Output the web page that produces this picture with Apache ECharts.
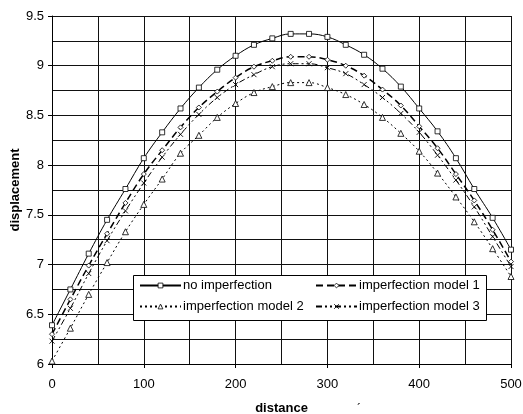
<!DOCTYPE html>
<html>
<head>
<meta charset="utf-8">
<script src="https://cdn.jsdelivr.net/npm/echarts@6/dist/echarts.min.js"></script>
<style>
html, body { margin: 0; padding: 0; background: #fff; }
#chart { width: 523px; height: 414px; }
</style>
</head>
<body>
<div id="chart"></div>
<script>
// distance along the member
var distance = [0, 20, 40, 60, 80, 100, 120, 140, 160, 180, 200, 220, 240, 260, 280, 300, 320, 340, 360, 380, 400, 420, 440, 460, 480, 500];

var noImperfection = [6.39, 6.75, 7.11, 7.45, 7.76, 8.07, 8.33, 8.57, 8.78, 8.96, 9.10, 9.21, 9.275, 9.32, 9.32, 9.29, 9.21, 9.11, 8.97, 8.79, 8.57, 8.34, 8.07, 7.76, 7.47, 7.15];
var model1 = [6.30, 6.65, 6.99, 7.31, 7.62, 7.91, 8.15, 8.38, 8.58, 8.74, 8.88, 8.99, 9.05, 9.09, 9.09, 9.06, 9.00, 8.90, 8.76, 8.60, 8.39, 8.17, 7.91, 7.645, 7.35, 7.03];
var model2 = [6.03, 6.36, 6.70, 7.02, 7.33, 7.605, 7.86, 8.12, 8.30, 8.48, 8.62, 8.73, 8.79, 8.83, 8.83, 8.78, 8.71, 8.61, 8.48, 8.32, 8.14, 7.92, 7.68, 7.43, 7.16, 6.88];
var model3 = [6.23, 6.56, 6.91, 7.24, 7.54, 7.82, 8.08, 8.31, 8.51, 8.68, 8.81, 8.91, 8.99, 9.02, 9.02, 8.98, 8.92, 8.81, 8.68, 8.52, 8.33, 8.10, 7.85, 7.58, 7.28, 6.98];

var names = ["no imperfection", "imperfection model 1", "imperfection model 2", "imperfection model 3"];

function pairs(ys) {
  return distance.map(function (x, i) { return [x, ys[i]]; });
}

var font = "Liberation Sans, Arial, sans-serif";
var chart = echarts.init(document.getElementById("chart"));

// hollow markers: white fill, thin black outline
var marker = { color: "#fff", borderColor: "#000", borderWidth: 0.8 };

var legendBase = {
  orient: "vertical",
  top: 279,
  itemWidth: 41,
  itemHeight: 6,
  itemGap: 8,
  z: 10,
  textStyle: { fontFamily: font, fontSize: 13, color: "#000", padding: [0, 0, 0, -3] },
  itemStyle: marker,
  padding: 0
};

var option = {
  animation: false,
  backgroundColor: "#fff",
  grid: { left: 52, right: 12, top: 16, bottom: 50, outerBoundsMode: "none", containLabel: false },
  legend: [
    Object.assign({}, legendBase, { left: 139, data: [names[0], names[2]] }),
    Object.assign({}, legendBase, { left: 315, data: [names[1], names[3]] })
  ],
  graphic: [
    {
      type: "rect",
      z: 9,
      shape: { x: 133.5, y: 275.5, width: 353, height: 45 },
      style: { fill: "#fff", stroke: "#000", lineWidth: 1 }
    },
    {
      type: "text",
      z: 9,
      left: 357,
      top: 404,
      style: { text: "\u00b4", font: "12px " + font, fill: "#000" }
    }
  ],
  xAxis: {
    type: "value",
    min: 0,
    max: 500,
    interval: 100,
    name: "distance",
    nameLocation: "middle",
    nameGap: 38,
    nameMoveOverlap: false,
    nameTextStyle: { fontFamily: font, fontSize: 13, fontWeight: "bold", color: "#000" },
    axisLine: { lineStyle: { color: "#000", width: 1 } },
    axisTick: { show: true, length: 4, lineStyle: { color: "#000" } },
    axisLabel: { margin: 14, fontFamily: font, fontSize: 13, color: "#000" },
    splitLine: { show: true, lineStyle: { color: "#111", width: 1 } },
    minorTick: { show: false, splitNumber: 2 },
    minorSplitLine: { show: true, lineStyle: { color: "#111", width: 1 } }
  },
  yAxis: {
    type: "value",
    min: 6,
    max: 9.5,
    interval: 0.5,
    name: "displacement",
    nameLocation: "middle",
    nameGap: 30,
    nameMoveOverlap: false,
    nameTextStyle: { fontFamily: font, fontSize: 13, fontWeight: "bold", color: "#000" },
    axisLine: { show: true, lineStyle: { color: "#000", width: 1 } },
    axisTick: { show: true, length: 4, lineStyle: { color: "#000" } },
    axisLabel: { margin: 8, fontFamily: font, fontSize: 13, color: "#000" },
    splitLine: { show: true, lineStyle: { color: "#111", width: 1 } },
    minorTick: { show: false, splitNumber: 2 },
    minorSplitLine: { show: true, lineStyle: { color: "#111", width: 1 } }
  },
  series: [
    {
      name: names[0],
      type: "line",
      smooth: 0.4,
      data: pairs(noImperfection),
      symbol: "rect",
      symbolSize: 5,
      lineStyle: { color: "#000", width: 1, type: "solid" },
      itemStyle: marker
    },
    {
      name: names[1],
      type: "line",
      smooth: 0.4,
      data: pairs(model1),
      symbol: "diamond",
      symbolSize: 5,
      lineStyle: { color: "#000", width: 1.5, type: [7, 4] },
      itemStyle: marker
    },
    {
      name: names[2],
      type: "line",
      smooth: 0.4,
      data: pairs(model2),
      symbol: "triangle",
      symbolSize: 6,
      lineStyle: { color: "#000", width: 1, type: [2, 3] },
      itemStyle: marker
    },
    {
      name: names[3],
      type: "line",
      smooth: 0.4,
      data: pairs(model3),
      symbol: "path://M0,0L10,10M0,10L10,0",
      symbolSize: 5,
      lineStyle: { color: "#000", width: 1, type: [6, 3, 2, 3, 2, 3] },
      itemStyle: { color: "#000", borderColor: "#000", borderWidth: 0.9 }
    }
  ]
};

chart.setOption(option);
</script>
</body>
</html>
